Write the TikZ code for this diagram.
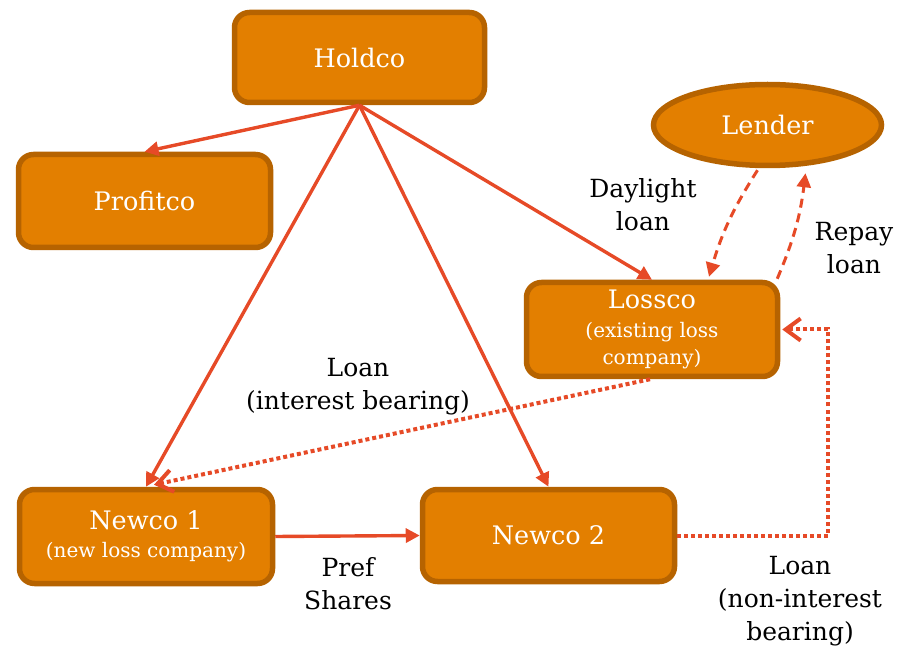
\documentclass[tikz,border=0pt]{standalone}
\usepackage{fontspec}
\setmainfont{DejaVu Serif}
\usetikzlibrary{arrows.meta,shapes.geometric,calc}
\definecolor{boxfill}{HTML}{E37F00}
\definecolor{boxline}{HTML}{B66300}
\definecolor{arrred}{HTML}{E64A27}
\newcommand{\subfnt}{\fontsize{20}{29}\selectfont}
\begin{document}
\begin{tikzpicture}[x=1pt,y=-1pt,
  box/.style={draw=boxline,fill=boxfill,line width=5.5pt,rounded corners=15pt,
    text=white,align=center,inner sep=0pt,font=\fontsize{25.5}{30}\selectfont},
  oval/.style={draw=boxline,fill=boxfill,line width=5.5pt,ellipse,
    text=white,inner sep=0pt,font=\fontsize{25.5}{30}\selectfont},
  lbl/.style={align=center,text=black,font=\fontsize{25}{33}\selectfont},
  solidarr/.style={draw=arrred,line width=3.4pt,-{Triangle[length=14pt,width=14pt]}},
  dotarr/.style={draw=arrred,line width=4pt,dash pattern=on 4pt off 3pt,
    -{Straight Barb[length=15pt,width=22pt,line width=4pt]}},
  dasharr/.style={draw=arrred,line width=3pt,dash pattern=on 9pt off 6pt,
    -{Triangle[length=14pt,width=14pt]}}]
\useasboundingbox (0,0) rectangle (911,652);
\node[box,minimum width=250pt,minimum height=90pt] (holdco) at (359.5,57.5) {Holdco};
\node[box,minimum width=252pt,minimum height=93pt] (profitco) at (144.5,201) {Profitco};
\node[oval,minimum width=228pt,minimum height=81pt] (lender) at (767.5,125) {Lender};
\node[box,minimum width=251pt,minimum height=94pt] (lossco) at (652,329.5)
  {Lossco\\[-1pt]{\subfnt (existing loss}\\[-3pt]{\subfnt company)}};
\node[box,minimum width=253pt,minimum height=94pt] (newco1) at (146,536.5)
  {Newco 1\\[-2pt]{\subfnt (new loss company)}};
\node[box,minimum width=252pt,minimum height=92pt] (newco2) at (548.5,535.5) {Newco 2};

\draw[solidarr] (holdco.south) -- (profitco.north);
\draw[solidarr] (holdco.south) -- (newco1.north);
\draw[solidarr] (holdco.south) -- (newco2.north);
\draw[solidarr] (holdco.south) -- (lossco.north);
\draw[solidarr] (newco1.east) -- (newco2.west);
\draw[dotarr] ($(lossco.south)+(-2,0)$) -- ($(newco1.north)+(8,-2)$);
\draw[dotarr] (newco2.east) -- ++(151,0) |- ($(lossco.east)+(2,0)$);
\draw[dasharr] ($(lender.south)+(-10,2)$) to[bend right=8] ($(lossco.north)+(57,-3)$);
\draw[dasharr] ($(lossco.north east)+(-3,-1)$) to[bend right=8] ($(lender.south)+(38,5)$);

\node[lbl] (daylight) at (643,205) {Daylight\\loan};
\node[lbl] (repay) at (854,248) {Repay\\loan};
\node[lbl] (loanib) at (358,387) {Loan\\(interest bearing)};
\node[lbl] (pref) at (348,584) {Pref\\Shares};
\node[lbl] (loannib) at (800,601) {Loan\\(non-interest\\bearing)};
\end{tikzpicture}
\end{document}
